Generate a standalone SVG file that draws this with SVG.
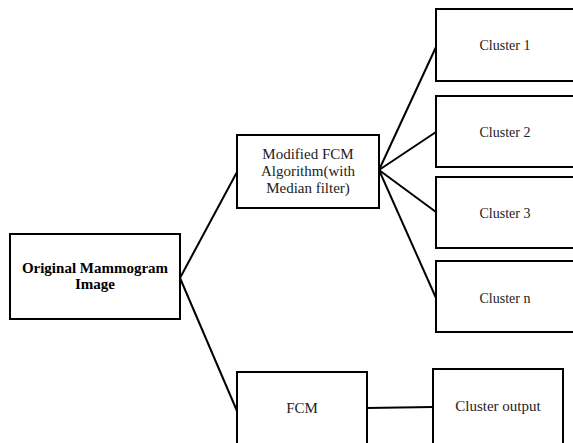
<svg xmlns="http://www.w3.org/2000/svg" width="573" height="443" viewBox="0 0 573 443">
<style>
.box{fill:#fff;stroke:#000;stroke-width:2}
.t{font-family:"Liberation Serif","Times New Roman","DejaVu Serif",serif;font-size:15px;fill:#222;text-anchor:middle}
.s{font-size:14px}
.b{font-weight:bold;fill:#000}
.c{fill:none;stroke:#000;stroke-width:2}
</style>
<rect width="573" height="443" fill="#fff"/>
<g id="connectors">
<line class="c" x1="180" y1="278" x2="237" y2="172"/>
<line class="c" x1="180" y1="278" x2="237" y2="411"/>
<line class="c" x1="379" y1="170" x2="436" y2="47"/>
<line class="c" x1="379" y1="170" x2="436" y2="132"/>
<line class="c" x1="379" y1="170" x2="436" y2="212"/>
<line class="c" x1="379" y1="170" x2="436" y2="298"/>
<line class="c" x1="367" y1="408" x2="433" y2="407"/>
</g>
<g id="original">
<rect class="box" x="10" y="234" width="170" height="85"/>
<text class="t b" x="95" y="273">Original Mammogram</text>
<text class="t b" x="95" y="289">Image</text>
</g>
<g id="modified">
<rect class="box" x="237" y="135" width="142" height="73"/>
<text class="t" x="308" y="159">Modified FCM</text>
<text class="t" x="308" y="176">Algorithm(with</text>
<text class="t" x="308" y="193">Median filter)</text>
</g>
<g id="cluster1">
<rect class="box" x="436" y="9" width="140" height="72"/>
<text class="t s" x="505" y="50">Cluster 1</text>
</g>
<g id="cluster2">
<rect class="box" x="436" y="96" width="140" height="71"/>
<text class="t s" x="505" y="137">Cluster 2</text>
</g>
<g id="cluster3">
<rect class="box" x="436" y="177" width="140" height="71"/>
<text class="t s" x="505" y="218">Cluster 3</text>
</g>
<g id="clustern">
<rect class="box" x="436" y="261" width="140" height="71"/>
<text class="t s" x="505" y="303">Cluster n</text>
</g>
<g id="fcm">
<rect class="box" x="237" y="372" width="130" height="80"/>
<text class="t" x="302" y="413">FCM</text>
</g>
<g id="output">
<rect class="box" x="433" y="369" width="130" height="83"/>
<text class="t" x="498" y="411">Cluster output</text>
</g>
</svg>
